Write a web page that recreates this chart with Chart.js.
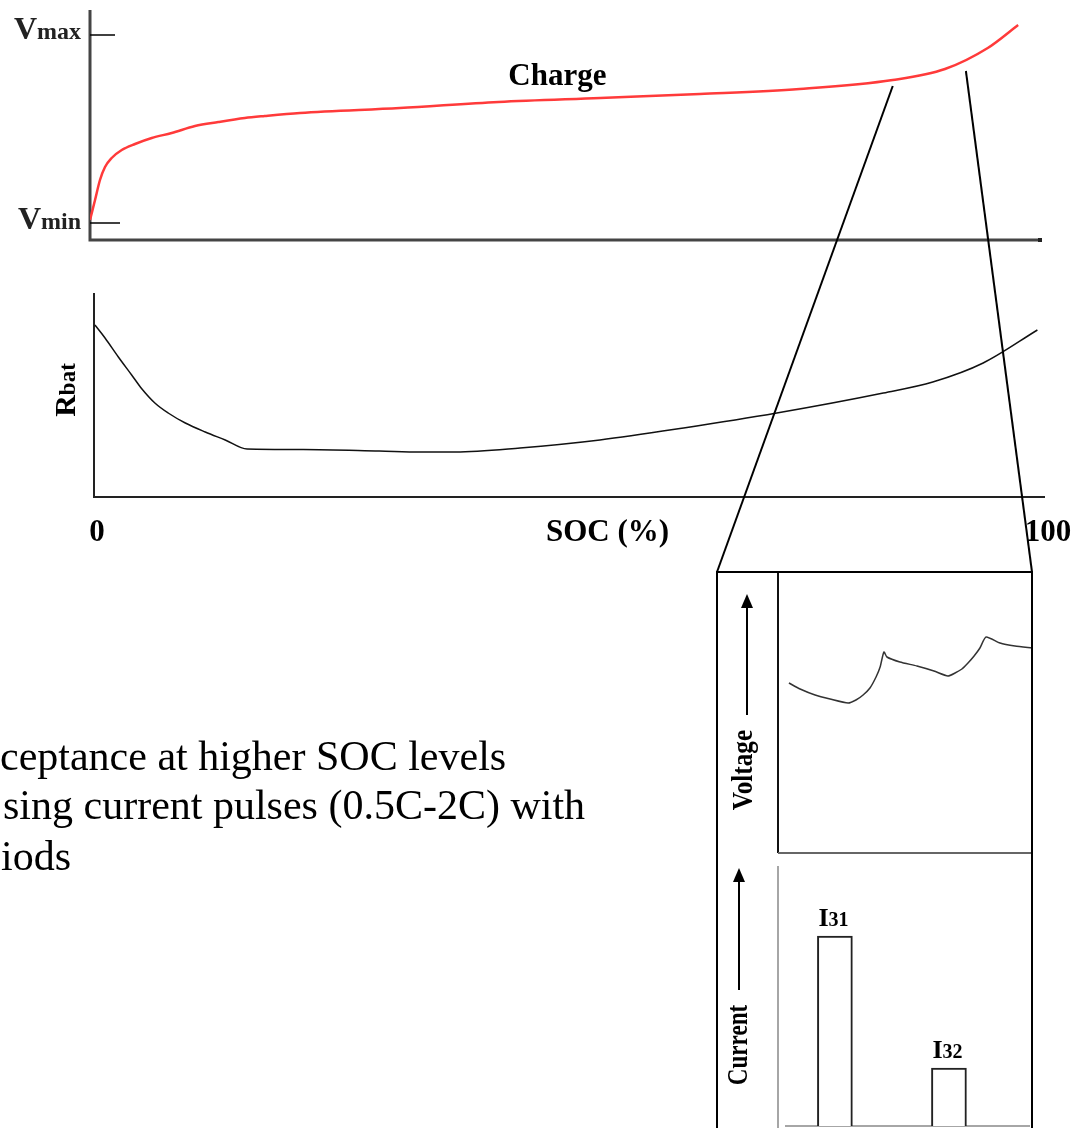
<!DOCTYPE html>
<html>
<head>
<meta charset="utf-8">
<script src="https://cdn.jsdelivr.net/npm/chart.js@4.4.1/dist/chart.umd.min.js"></script>
<style>
  body { margin: 0; background: #fff; width: 1071px; height: 1128px; overflow: hidden; position: relative; }
  canvas { position: absolute; }
  .txt { position: absolute; font-family: 'Liberation Serif', 'Times New Roman', serif; font-size: 42px; line-height: 51px; color: #000; white-space: nowrap; }
</style>
</head>
<body>
<canvas id="charge-chart" width="1071" height="260" style="left:0;top:0"></canvas>
<canvas id="rbat-chart" width="1071" height="300" style="left:0;top:260px"></canvas>
<canvas id="voltage-chart" width="371" height="295" style="left:700px;top:565px"></canvas>
<canvas id="current-chart" width="371" height="268" style="left:700px;top:860px"></canvas>
<canvas id="overlay" width="1071" height="1128" style="left:0;top:0;pointer-events:none"></canvas>
<div class="txt" style="left:0;top:731px">ceptance at higher SOC levels</div>
<div class="txt" style="left:3px;top:780px">sing current pulses (0.5C-2C) with</div>
<div class="txt" style="left:1px;top:831px">iods</div>
<script>
// charge curve (top panel), SOC in %, voltage in arbitrary units
const socCharge = [0, 0.53, 1.05, 1.58, 2.28, 3.34, 4.74, 6.5, 8.6, 11.05, 13.5, 16.3, 18.4, 22.1, 32.6, 43, 53.7, 64.2, 74.7, 84.5, 90, 94.5, 97.7]
const vCharge = [2.0, 4.0, 6.0, 7.3, 8.2, 9.0, 9.6, 10.2, 10.7, 11.4, 11.8, 12.2, 12.4, 12.7, 13.2, 13.8, 14.2, 14.6, 15.1, 16.0, 17.1, 19.2, 21.5]
const vLevels = [20.5, 1.7]
const vLevelNames = ['max', 'min']

// battery resistance (middle panel)
const socRes = [0.1, 1.16, 2.56, 3.96, 5.0, 6.4, 7.8, 9.6, 11.7, 13.8, 16.1, 22, 30, 34.3, 38, 44.8, 53.2, 62, 71.8, 83, 88.2, 93.5, 99.2]
const rBat = [17.2, 15.9, 14.0, 12.2, 10.85, 9.4, 8.4, 7.4, 6.5, 5.7, 4.8, 4.75, 4.6, 4.5, 4.5, 4.9, 5.7, 6.9, 8.4, 10.4, 11.5, 13.4, 16.7]
const socTicks = ['0', '100']
const socTitle = 'SOC (%)'

// zoomed detail: voltage response to pulses
const tVolt = [4.3, 8.7, 14.6, 20.5, 27.6, 30.7, 33.5, 36.2, 38.6, 40.2, 41.7, 42.9, 48.0, 54.7, 61.4, 66.9, 69.7, 72.4, 74.8, 77.2, 79.5, 81.9, 87.4, 93.3, 100]
const vPulse = [17.0, 16.4, 15.8, 15.4, 15.0, 15.3, 15.8, 16.5, 17.6, 18.6, 20.1, 19.6, 19.1, 18.7, 18.2, 17.7, 18.0, 18.4, 19.0, 19.7, 20.5, 21.6, 21.0, 20.7, 20.5]

// zoomed detail: current pulses
const tPulse = [22.4, 67.3]
const iPulse = [19, 5.8]
const pulseNames = ['31', '32']

// part of the charge curve that is zoomed in
const zoomSoc = [84.5, 92.2]
const zoomV = [15.4, 16.9]

const serif = "'Liberation Serif', 'Times New Roman', serif"

function points(xs, ys) {
  return xs.map((x, i) => ({ x: x, y: ys[i] }))
}

function baseOptions(pad, ymax) {
  return {
    responsive: false,
    animation: false,
    events: [],
    layout: { padding: pad },
    plugins: { legend: { display: false }, tooltip: { enabled: false } },
    scales: {
      x: { type: 'linear', display: false, min: 0, max: 100, offset: false },
      y: { type: 'linear', display: false, min: 0, max: ymax }
    }
  }
}

// text with a big first part and a smaller second part, e.g. V + max
function mixedText(ctx, parts, x, y, align) {
  let total = 0
  parts.forEach(p => { ctx.font = p[1]; total += ctx.measureText(p[0]).width })
  let cx = align == 'right' ? x - total : (align == 'center' ? x - total / 2 : x)
  ctx.textAlign = 'left'
  ctx.textBaseline = 'alphabetic'
  parts.forEach(p => { ctx.font = p[1]; ctx.fillText(p[0], cx, y); cx += ctx.measureText(p[0]).width })
}

function rotatedText(ctx, parts, x, yc, squeeze) {
  ctx.save()
  ctx.translate(x, yc)
  ctx.rotate(-Math.PI / 2)
  ctx.scale(squeeze, 1)
  mixedText(ctx, parts, 0, 0, 'center')
  ctx.restore()
}

function upArrow(ctx, x, tip, base, end) {
  ctx.beginPath(); ctx.moveTo(x, base); ctx.lineTo(x, end); ctx.stroke()
  ctx.beginPath(); ctx.moveTo(x, tip); ctx.lineTo(x - 6, base); ctx.lineTo(x + 6, base); ctx.closePath(); ctx.fill()
}

// top panel: charge curve
const chargeDeco = {
  id: 'chargeDeco',
  beforeDatasetsDraw(chart) {
    const ctx = chart.ctx, a = chart.chartArea, ys = chart.scales.y
    ctx.save()
    ctx.strokeStyle = '#444'
    ctx.lineWidth = 3
    ctx.beginPath(); ctx.moveTo(a.left, a.top); ctx.lineTo(a.left, a.bottom); ctx.lineTo(a.right, a.bottom); ctx.stroke()
    ctx.fillStyle = '#222'
    ctx.fillRect(a.right - 2, a.bottom - 2, 4, 4)
    ctx.strokeStyle = '#000'
    ctx.lineWidth = 1.5
    vLevels.forEach((v, i) => {
      const y = ys.getPixelForValue(v)
      ctx.beginPath(); ctx.moveTo(a.left, y); ctx.lineTo(a.left + 25 + i * 5, y); ctx.stroke()
      mixedText(ctx, [['V', 'bold 32px ' + serif], [vLevelNames[i], 'bold 24px ' + serif]], a.left - 9, y + 4 + i * 2, 'right')
    })
    ctx.restore()
  },
  afterDraw(chart) {
    const ctx = chart.ctx, a = chart.chartArea
    ctx.save()
    ctx.fillStyle = '#000'
    mixedText(ctx, [['Charge', 'bold 31px ' + serif]], chart.scales.x.getPixelForValue(49.2), a.top + 75, 'center')
    ctx.restore()
  }
}

const chargeChart = new Chart(document.getElementById('charge-chart'), {
  type: 'line',
  data: {
    datasets: [{
      data: points(socCharge, vCharge),
      borderColor: '#ff3a3a',
      borderWidth: 2.5,
      pointRadius: 0,
      cubicInterpolationMode: 'monotone',
      fill: false
    }]
  },
  options: baseOptions({ left: 90, right: 31, top: 10, bottom: 20 }, 23),
  plugins: [chargeDeco]
})

// middle panel: battery resistance
const rbatDeco = {
  id: 'rbatDeco',
  beforeDatasetsDraw(chart) {
    const ctx = chart.ctx, a = chart.chartArea, xs = chart.scales.x
    ctx.save()
    ctx.strokeStyle = '#222'
    ctx.lineWidth = 2
    ctx.beginPath(); ctx.moveTo(a.left, a.top); ctx.lineTo(a.left, a.bottom); ctx.lineTo(a.right, a.bottom); ctx.stroke()
    ctx.fillStyle = '#000'
    mixedText(ctx, [[socTicks[0], 'bold 31px ' + serif]], xs.getPixelForValue(0) + 3, a.bottom + 44, 'center')
    mixedText(ctx, [[socTicks[1], 'bold 31px ' + serif]], xs.getPixelForValue(100) + 3, a.bottom + 44, 'center')
    mixedText(ctx, [[socTitle, 'bold 31px ' + serif]], xs.getPixelForValue(54), a.bottom + 44, 'center')
    rotatedText(ctx, [['R', 'bold 30px ' + serif], ['bat', 'bold 23px ' + serif]], a.left - 19, a.top + 97, 1)
    ctx.restore()
  }
}

const rbatChart = new Chart(document.getElementById('rbat-chart'), {
  type: 'line',
  data: {
    datasets: [{
      data: points(socRes, rBat),
      borderColor: '#111',
      borderWidth: 1.5,
      pointRadius: 0,
      cubicInterpolationMode: 'monotone',
      fill: false
    }]
  },
  options: baseOptions({ left: 94, right: 26, top: 33, bottom: 63 }, 20.4),
  plugins: [rbatDeco]
})

// inset: voltage during pulses
const voltDeco = {
  id: 'voltDeco',
  beforeDatasetsDraw(chart) {
    const ctx = chart.ctx, a = chart.chartArea
    ctx.save()
    ctx.lineWidth = 2
    ctx.strokeStyle = '#111'
    ctx.beginPath(); ctx.moveTo(a.left, a.top); ctx.lineTo(a.left, a.bottom); ctx.stroke()
    ctx.strokeStyle = '#666'
    ctx.beginPath(); ctx.moveTo(a.left, a.bottom); ctx.lineTo(a.right, a.bottom); ctx.stroke()
    ctx.strokeStyle = '#000'
    ctx.fillStyle = '#000'
    ctx.lineWidth = 2
    upArrow(ctx, a.left - 31, a.top + 22, a.top + 36, a.top + 143)
    rotatedText(ctx, [['Voltage', 'bold 30px ' + serif]], a.left - 26, a.top + 198, 0.84)
    ctx.restore()
  }
}

const voltChart = new Chart(document.getElementById('voltage-chart'), {
  type: 'line',
  data: {
    datasets: [{
      data: points(tVolt, vPulse),
      borderColor: '#333',
      borderWidth: 1.5,
      pointRadius: 0,
      tension: 0.2,
      fill: false
    }]
  },
  options: baseOptions({ left: 78, right: 39, top: 7, bottom: 7 }, 28.1),
  plugins: [voltDeco]
})

// inset: current pulses
const currentDeco = {
  id: 'currentDeco',
  beforeDatasetsDraw(chart) {
    const ctx = chart.ctx, a = chart.chartArea
    ctx.save()
    ctx.strokeStyle = '#888'
    ctx.lineWidth = 1.5
    ctx.beginPath(); ctx.moveTo(a.left, a.top); ctx.lineTo(a.left, chart.height); ctx.stroke()
    ctx.beginPath(); ctx.moveTo(a.left + 7, a.bottom); ctx.lineTo(a.right - 2, a.bottom); ctx.stroke()
    ctx.strokeStyle = '#000'
    ctx.fillStyle = '#000'
    ctx.lineWidth = 2
    upArrow(ctx, a.left - 39, a.top + 2, a.top + 16, a.top + 124)
    rotatedText(ctx, [['Current', 'bold 30px ' + serif]], a.left - 31, a.top + 179, 0.77)
    ctx.restore()
  },
  afterDatasetsDraw(chart) {
    const ctx = chart.ctx
    ctx.save()
    ctx.fillStyle = '#000'
    chart.getDatasetMeta(0).data.forEach((bar, i) => {
      mixedText(ctx, [['I', 'bold 26px ' + serif], [pulseNames[i], 'bold 20px ' + serif]], bar.x - bar.width / 2 + 1, bar.y - 10, 'left')
    })
    ctx.restore()
  }
}

const currentChart = new Chart(document.getElementById('current-chart'), {
  type: 'bar',
  data: {
    datasets: [{
      data: points(tPulse, iPulse),
      backgroundColor: '#fff',
      borderColor: '#222',
      borderWidth: 2,
      barThickness: 35
    }]
  },
  options: baseOptions({ left: 78, right: 39, top: 6, bottom: 2 }, 26),
  plugins: [currentDeco]
})

// zoom frame and the lines that join it to the charge curve
const ov = document.getElementById('overlay').getContext('2d')
const vc = voltChart.canvas
const boxLeft = 717
const boxTop = vc.offsetTop + voltChart.chartArea.top
const boxRight = vc.offsetLeft + voltChart.chartArea.right
ov.strokeStyle = '#000'
ov.lineWidth = 2
ov.beginPath()
ov.moveTo(boxLeft, 1128); ov.lineTo(boxLeft, boxTop); ov.lineTo(boxRight, boxTop); ov.lineTo(boxRight, 1128)
ov.stroke()
const ends = [boxLeft, boxRight]
zoomSoc.forEach((s, i) => {
  const x = chargeChart.scales.x.getPixelForValue(s)
  const y = chargeChart.scales.y.getPixelForValue(zoomV[i])
  ov.beginPath(); ov.moveTo(x, y); ov.lineTo(ends[i], boxTop); ov.stroke()
})
</script>
</body>
</html>
